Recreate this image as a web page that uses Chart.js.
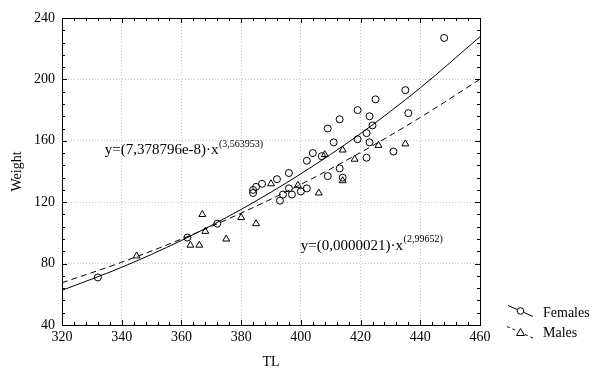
<!DOCTYPE html>
<html>
<head>
<meta charset="utf-8">
<script src="https://cdn.jsdelivr.net/npm/chart.js@4/dist/chart.umd.min.js"></script>
<style>
html, body { margin: 0; padding: 0; background: #fff; }
#wrap { width: 600px; height: 378px; position: relative; }
</style>
</head>
<body>
<div id="wrap"><canvas id="weightChart"></canvas></div>
<script>
// observed points (TL, Weight)
var femaleTL = [332, 362, 372, 384, 384, 385, 387, 392, 393, 394, 396, 396, 397, 400, 402, 402, 404, 407, 409, 409, 411, 413, 413, 414, 419, 419, 422, 422, 423, 423, 424, 425, 431, 435, 436, 448];
var femaleW  = [71, 97, 106, 126, 128, 130, 132, 135, 121, 125, 139, 129, 125, 127, 129, 147, 152, 150, 137, 168, 159, 142, 174, 136, 180, 161, 165, 149, 176, 159, 170, 187, 153, 193, 178, 227];
var maleTL = [345, 363, 366, 367, 368, 375, 380, 385, 390, 399, 406, 408, 414, 414, 418, 426, 435];
var maleW  = [85, 92, 92, 112, 101, 96, 110, 106, 132, 131, 126, 151, 134, 154, 148, 157, 158];

// fitted curves
var fitTL     = [320, 340, 360, 380, 400, 420, 440, 460];
var femaleFit = [62.6, 77.6, 95.1, 115.3, 138.5, 164.7, 194.5, 227.8];
var maleFit   = [67.5, 80.9, 96.0, 112.9, 131.6, 152.4, 175.2, 200.1];

var seriesNames = ['Females', 'Males'];
var femaleEq = ['y=(7,378796e-8)\u00b7x', '(3,563953)'];
var maleEq   = ['y=(0,0000021)\u00b7x', '(2,99652)'];

var FONT = "'Liberation Serif', 'Times New Roman', serif";

function pts(xs, ys) {
  return xs.map(function (v, i) { return { x: v, y: ys[i] }; });
}

var decor = {
  id: 'decor',
  beforeDraw: function (chart) {
    var ctx = chart.ctx;
    ctx.save();
    ctx.fillStyle = '#fff';
    ctx.fillRect(0, 0, chart.width, chart.height);
    ctx.restore();
  },
  afterDraw: function (chart) {
    var ctx = chart.ctx, a = chart.chartArea, xs = chart.scales.x, ys = chart.scales.y;
    ctx.save();
    ctx.strokeStyle = '#000';
    ctx.lineWidth = 1;
    ctx.strokeRect(Math.round(a.left) + 0.5, Math.round(a.top) + 0.5,
                   Math.round(a.right - a.left), Math.round(a.bottom - a.top));
    // inner tick marks on all four sides
    ctx.beginPath();
    xs.ticks.forEach(function (t) {
      var px = Math.round(xs.getPixelForValue(t.value)) + 0.5;
      var len = t.value % 20 === 0 ? 5 : 3;
      ctx.moveTo(px, a.bottom);
      ctx.lineTo(px, a.bottom - len);
      ctx.moveTo(px, a.top);
      ctx.lineTo(px, a.top + len);
    });
    ys.ticks.forEach(function (t) {
      var py = Math.round(ys.getPixelForValue(t.value)) + 0.5;
      var len = t.value % 40 === 0 ? 5 : 3;
      ctx.moveTo(a.left, py);
      ctx.lineTo(a.left + len, py);
      ctx.moveTo(a.right, py);
      ctx.lineTo(a.right - len, py);
    });
    ctx.stroke();

    // equations
    function eq(txt, tl, w) {
      var x0 = xs.getPixelForValue(tl), y0 = ys.getPixelForValue(w);
      ctx.fillStyle = '#000';
      ctx.textBaseline = 'middle';
      ctx.textAlign = 'left';
      ctx.font = '15px ' + FONT;
      ctx.fillText(txt[0], x0, y0);
      var wd = ctx.measureText(txt[0]).width;
      ctx.font = '10px ' + FONT;
      ctx.fillText(txt[1], x0 + wd + 0.5, y0 - 6);
    }
    eq(femaleEq, 334.3, 154);
    eq(maleEq, 400, 91.6);

    // legend
    ctx.font = '14px ' + FONT;
    ctx.textBaseline = 'middle';
    ctx.fillStyle = '#000';
    ctx.lineWidth = 1;
    // Females
    ctx.beginPath();
    ctx.moveTo(508, 305.5); ctx.lineTo(517, 309.5);
    ctx.moveTo(524, 312.5); ctx.lineTo(533, 316.5);
    ctx.stroke();
    ctx.beginPath();
    ctx.arc(520.5, 311, 3.3, 0, Math.PI * 2);
    ctx.stroke();
    ctx.fillText(seriesNames[0], 543, 313);
    // Males
    ctx.setLineDash([3, 3]);
    ctx.beginPath();
    ctx.moveTo(507, 326.5); ctx.lineTo(516, 330.5);
    ctx.moveTo(525, 334.5); ctx.lineTo(533, 338);
    ctx.stroke();
    ctx.setLineDash([]);
    ctx.beginPath();
    ctx.moveTo(520.5, 328.5); ctx.lineTo(524.5, 335.5); ctx.lineTo(516.5, 335.5); ctx.closePath();
    ctx.stroke();
    ctx.fillText(seriesNames[1], 543, 333);
    ctx.restore();
  }
};

var chart = new Chart(document.getElementById('weightChart'), {
  type: 'scatter',
  data: {
    datasets: [
      {
        label: seriesNames[0],
        data: pts(femaleTL, femaleW),
        pointStyle: 'circle',
        pointRadius: 3.5,
        pointBackgroundColor: 'rgba(0,0,0,0)',
        pointBorderColor: '#000',
        pointBorderWidth: 1
      },
      {
        label: seriesNames[1],
        data: pts(maleTL, maleW),
        pointStyle: 'triangle',
        pointRadius: 4,
        pointBackgroundColor: 'rgba(0,0,0,0)',
        pointBorderColor: '#000',
        pointBorderWidth: 1
      },
      {
        label: seriesNames[0] + ' fit',
        type: 'line',
        data: pts(fitTL, femaleFit),
        showLine: true,
        borderColor: '#000',
        borderWidth: 1,
        pointRadius: 0,
        cubicInterpolationMode: 'monotone'
      },
      {
        label: seriesNames[1] + ' fit',
        type: 'line',
        data: pts(fitTL, maleFit),
        showLine: true,
        borderColor: '#000',
        borderWidth: 1,
        borderDash: [6, 4],
        pointRadius: 0,
        cubicInterpolationMode: 'monotone'
      }
    ]
  },
  options: {
    animation: false,
    responsive: true,
    maintainAspectRatio: false,
    layout: { padding: { top: 18, right: 120, left: 0, bottom: 0 } },
    plugins: {
      legend: { display: false },
      tooltip: { enabled: false }
    },
    scales: {
      x: {
        type: 'linear',
        min: 320,
        max: 460,
        afterFit: function (s) { s.height = 53; },
        title: {
          display: true,
          text: 'TL',
          color: '#000',
          font: { family: FONT, size: 14 },
          padding: { top: 0, bottom: 7 }
        },
        ticks: {
          stepSize: 4,
          autoSkip: false,
          maxRotation: 0,
          color: '#000',
          padding: 4,
          font: { family: FONT, size: 14 },
          callback: function (v) { return v % 20 === 0 ? String(v) : ''; }
        },
        grid: {
          drawTicks: false,
          color: function (c) { return c.tick && c.tick.value % 20 === 0 ? '#c4c4c4' : 'rgba(0,0,0,0)'; }
        },
        border: { display: false, dash: [1, 2] }
      },
      y: {
        type: 'linear',
        min: 40,
        max: 240,
        afterFit: function (s) { s.width = 62; },
        title: {
          display: true,
          text: 'Weight',
          color: '#000',
          font: { family: FONT, size: 14 },
          padding: { top: 9, bottom: 0 }
        },
        ticks: {
          stepSize: 8,
          autoSkip: false,
          color: '#000',
          padding: 7,
          font: { family: FONT, size: 14 },
          callback: function (v) { return v % 40 === 0 ? String(v) : ''; }
        },
        grid: {
          drawTicks: false,
          color: function (c) { return c.tick && c.tick.value % 40 === 0 ? '#c4c4c4' : 'rgba(0,0,0,0)'; }
        },
        border: { display: false, dash: [1, 2] }
      }
    }
  },
  plugins: [decor]
});
</script>
</body>
</html>
